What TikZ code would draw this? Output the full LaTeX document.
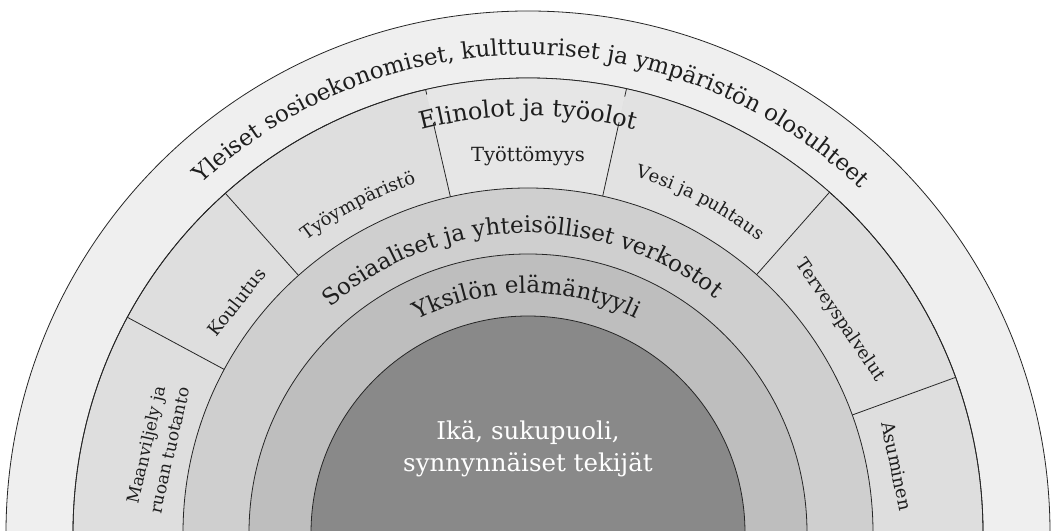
\documentclass[tikz,border=0pt]{standalone}
\usepackage{fontspec}
\setmainfont{DejaVu Serif}
\usetikzlibrary{decorations.text}
\definecolor{outerc}{HTML}{EFEFEF}
\definecolor{condc}{HTML}{DEDEDE}
\definecolor{condl}{HTML}{E6E6E6}
\definecolor{condm}{HTML}{E2E2E2}
\definecolor{socc}{HTML}{CFCFCF}
\definecolor{lifec}{HTML}{BEBEBE}
\definecolor{corec}{HTML}{898989}
\definecolor{inkc}{HTML}{1E1E1E}
\newcommand\fsOuter{\fontsize{23}{27}\selectfont}
\newcommand\fsElin{\fontsize{24}{28}\selectfont}
\newcommand\fsSoc{\fontsize{23}{27}\selectfont}
\newcommand\fsYks{\fontsize{23}{27}\selectfont}
\newcommand\fsSmall{\fontsize{18}{22}\selectfont}
\newcommand\fsMid{\fontsize{19.5}{23}\selectfont}
\begin{document}
\begin{tikzpicture}[x=1pt,y=1pt,
  ringline/.style={draw=black!85, line width=0.8pt},
  divider/.style={draw=black!85, line width=0.8pt},
  lbl/.style={text=inkc, font=\fsSmall, inner sep=0pt},
  arctext/.style={decorate, decoration={text along path, text align=center, text color=inkc, text={#1}}}
]
\useasboundingbox (0,0) rectangle (1056,530);
\clip (0,0) rectangle (1056,530);
\fill[white] (0,0) rectangle (1056,530);
\begin{scope}[shift={(528,-3)}]
  % rings
  \filldraw[ringline, fill=outerc] (0,0) circle[radius=522];
  \filldraw[ringline, fill=condc] (0,0) circle[radius=455];
  % lighter cells
  \fill[condl] (77.5:345) -- (77.5:455) arc[start angle=77.5, end angle=103, radius=455] -- (103:345) arc[start angle=103, end angle=77.5, radius=345] -- cycle;
  \fill[condm] (48.5:345) -- (48.5:455) arc[start angle=48.5, end angle=77.5, radius=455] -- (77.5:345) arc[start angle=77.5, end angle=48.5, radius=345] -- cycle;
  \draw[ringline] (0,0) circle[radius=455];
  \filldraw[ringline, fill=socc] (0,0) circle[radius=345];
  \filldraw[ringline, fill=lifec] (0,0) circle[radius=279];
  \filldraw[ringline, fill=corec] (0,0) circle[radius=217];
  % dividers
  \draw[divider] (151.7:345) -- (151.7:455);
  \draw[divider] (131.7:345) -- (131.7:455);
  \draw[divider] (103:345) -- (103:421);
  \draw[divider] (103:450) -- (103:455);
  \draw[divider] (77.5:345) -- (77.5:421);
  \draw[divider] (77.5:447) -- (77.5:455);
  \draw[divider] (48.5:345) -- (48.5:455);
  \draw[divider] (20:345) -- (20:455);
  % arc texts
  \path[arctext={|\fsOuter|Yleiset sosioekonomiset{,} kulttuuriset ja ympäristön olosuhteet}]
    (150:478) arc[start angle=150, end angle=29, radius=478];
  \path[arctext={|\fsElin|Elinolot ja työolot}]
    (120:417) arc[start angle=120, end angle=60, radius=417];
  \path[arctext={|\fsSmall|Työympäristö}]
    (135:367) arc[start angle=135, end angle=99.8, radius=367];
  \path[arctext={|\fsSmall|Vesi ja puhtaus}]
    (82:372) arc[start angle=82, end angle=43, radius=372];
  \path[arctext={|\fsSoc|Sosiaaliset ja yhteisölliset verkostot}]
    (140:300) arc[start angle=140, end angle=42.6, radius=300];
  \path[arctext={|\fsYks|Yksilön elämäntyyli}]
    (125:240) arc[start angle=125, end angle=55.5, radius=240];
  % straight labels
  \node[lbl, font=\fsMid, anchor=base] (tyot) at (90:371) {Työttömyys};
  \node[lbl, rotate=51.6] (koul) at (141.6:372) {Koulutus};
  \node[lbl, rotate=-55.7] (terv) at (34.3:378) {Terveyspalvelut};
  \node[lbl, rotate=-78] (asum) at (10.3:375) {Asuminen};
  \node[lbl, rotate=77, align=center, font=\fontsize{17}{24}\selectfont] (maan) at (167:380) {Maanviljely ja\\ruoan tuotanto};
\end{scope}
\node[text=white, align=center, font=\fontsize{24.5}{32}\selectfont, inner sep=0pt] (corelbl) at (528,81) {Ikä, sukupuoli,\\synnynnäiset tekijät};
\end{tikzpicture}
\end{document}
